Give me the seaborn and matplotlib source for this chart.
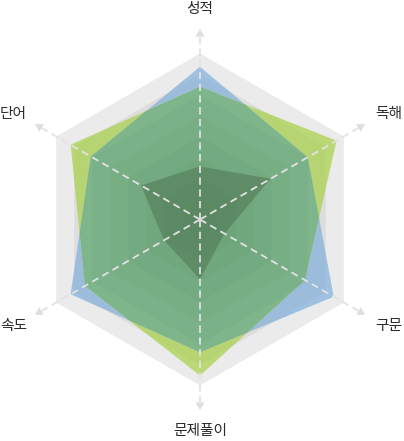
import numpy as np
import pandas as pd
import matplotlib
matplotlib.use("Agg")
import matplotlib.pyplot as plt
from matplotlib.patches import Polygon
import seaborn as sns

# chart data (scale 0-100), axes clockwise from the top
labels = ["성적", "독해", "구문", "문제풀이", "속도", "단어"]
blue_vals = [92, 75, 93, 80, 90, 76]
yellow_vals = [80, 95, 73, 94, 80, 90]
dark_vals = [32, 49, 17, 36, 25, 41]
max_val = 100
n_levels = 8

sns.set_theme(style="white")
plt.rcParams["font.family"] = ["Noto Sans CJK KR", "DejaVu Sans"]

n = len(labels)
angles = np.pi / 2 - np.arange(n) * 2 * np.pi / n
unit = np.column_stack([np.cos(angles), np.sin(angles)])


def to_xy(vals):
    r = np.asarray(vals, float) / max_val
    return r[:, None] * unit


def overlap(a, b):
    # intersection of two radar polygons, sector by sector
    ra = np.asarray(a, float) / max_val
    rb = np.asarray(b, float) / max_val
    out = []
    for i in range(n):
        j = (i + 1) % n
        out.append(min(ra[i], rb[i]) * unit[i])
        if (ra[i] - rb[i]) * (ra[j] - rb[j]) < 0:
            p1, p2 = ra[i] * unit[i], ra[j] * unit[j]
            q1, q2 = rb[i] * unit[i], rb[j] * unit[j]
            m = np.column_stack([p2 - p1, q1 - q2])
            t, s = np.linalg.solve(m, q1 - p1)
            out.append(p1 + t * (p2 - p1))
    return np.array(out)


fig = plt.figure(figsize=(4.04, 4.41), dpi=100)
ax = fig.add_axes([0, 0, 1, 1])
R, cx, cy = 166.0, 200.0, 219.5
ax.set_xlim(-cx / R, (404 - cx) / R)
ax.set_ylim(-(441 - cy) / R, cy / R)
ax.set_aspect("equal")
ax.axis("off")


def draw_bands(clip=None):
    patches = [Polygon(to_xy([max_val] * n), closed=True, fc="#ebebeb", ec="none")]
    for k in range(n_levels - 1, 0, -1):
        patches.append(Polygon(to_xy([max_val * k / n_levels] * n), closed=True,
                               fc="black", alpha=0.06, ec="none"))
    for p in patches:
        ax.add_patch(p)
        if clip is not None:
            p.set_clip_path(clip)


draw_bands()

blue_patch = Polygon(to_xy(blue_vals), closed=True, fc="#82b0db", alpha=0.72, ec="none")
yellow_patch = Polygon(to_xy(yellow_vals), closed=True, fc="#a9d14a", alpha=0.72, ec="none")
ax.add_patch(blue_patch)
ax.add_patch(yellow_patch)

# overlap region shows as green on the background
both = Polygon(overlap(blue_vals, yellow_vals), closed=True, fc="none", ec="none")
ax.add_patch(both)
draw_bands(clip=both)
ax.add_patch(Polygon(overlap(blue_vals, yellow_vals), closed=True, fc="#5aa66c",
                     alpha=0.72, ec="none"))

ax.add_patch(Polygon(to_xy(dark_vals), closed=True, fc="#4d7250", alpha=0.5, ec="none"))

# dashed spokes with arrow heads
spoke_len, tip_len, head_len, head_w = 1.10, 1.148, 0.046, 0.027
spokes = pd.DataFrame({
    "x": np.concatenate([[0, spoke_len * u[0]] for u in unit]),
    "y": np.concatenate([[0, spoke_len * u[1]] for u in unit]),
    "axis": np.repeat(labels, 2),
})
sns.lineplot(data=spokes, x="x", y="y", units="axis", estimator=None, sort=False,
             color="#e2e2e2", lw=1.3, ax=ax)
for line in ax.lines:
    line.set_dashes([4, 2.5])
for u in unit:
    perp = np.array([-u[1], u[0]])
    base = (tip_len - head_len) * u
    ax.add_patch(Polygon([tip_len * u, base + head_w * perp, base - head_w * perp],
                         closed=True, fc="#dedede", ec="none", zorder=3))

label_pos = [(0, 1.268), (1.137, 0.634), (1.137, -0.640), (0, -1.275),
             (-1.124, -0.640), (-1.124, 0.634)]
for lab, (x, y) in zip(labels, label_pos):
    ax.text(x, y, lab, ha="center", va="center", fontsize=10.6, color="#2b2b2b",
            fontweight="medium")

fig.savefig("out.png", dpi=100)
